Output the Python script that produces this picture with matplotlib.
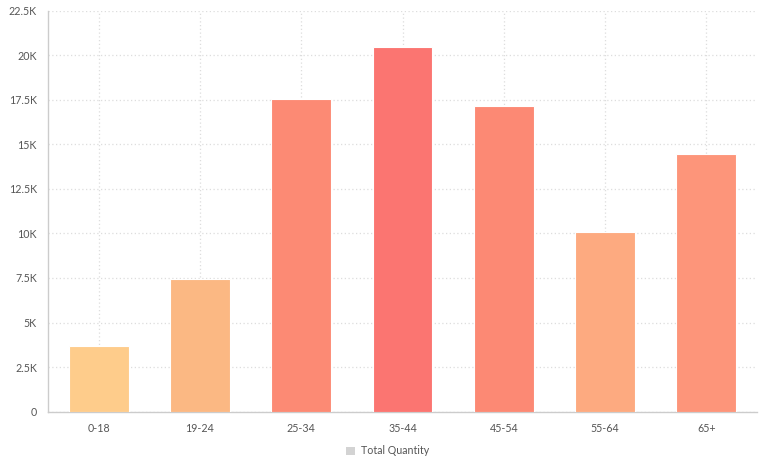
import matplotlib
matplotlib.use("Agg")
import matplotlib.pyplot as plt
from matplotlib.patches import Patch

# --- dados ---
faixas = ["0-18", "19-24", "25-34", "35-44", "45-54", "55-64", "65+"]
quantidades = [3700, 7420, 17550, 20480, 17120, 10050, 14480]
cores = ["#FECC8B", "#FBB883", "#FC8A74", "#FB7571", "#FC8974", "#FDAA80", "#FD957A"]
y_ticks = [0, 2500, 5000, 7500, 10000, 12500, 15000, 17500, 20000, 22500]
y_labels = ["0", "2.5K", "5K", "7.5K", "10K", "12.5K", "15K", "17.5K", "20K", "22.5K"]

plt.rcParams["font.family"] = ["Lato", "DejaVu Sans"]

fig = plt.figure(figsize=(7.7, 4.72), dpi=100)
ax = fig.add_axes([48 / 770, 1 - 411.7 / 472, (757 - 48) / 770, (411.7 - 10.5) / 472])

x = list(range(len(faixas)))
ax.bar(x, quantidades, width=0.59, color=cores, edgecolor="#FFFFFF", linewidth=0.8,
       zorder=3, label="Total Quantity")

ax.set_xlim(-0.5, len(faixas) - 0.5)
ax.set_ylim(0, 22500)
ax.set_xticks(x)
ax.set_xticklabels(faixas)
ax.set_yticks(y_ticks)
ax.set_yticklabels(y_labels)

ax.grid(True, linestyle=(0, (1, 2)), color="#DDDDDD", linewidth=0.9, zorder=0)
ax.tick_params(length=0, labelsize=7.7, colors="#555555")
ax.tick_params(axis="y", pad=8)
ax.tick_params(axis="x", pad=8)

for lado in ["top", "right"]:
    ax.spines[lado].set_visible(False)
for lado in ["left", "bottom"]:
    ax.spines[lado].set_color("#CCCCCC")
    ax.spines[lado].set_linewidth(1)

fig.legend(handles=[Patch(facecolor="#D3D3D3", label="Total Quantity")],
           loc="center", bbox_to_anchor=(388 / 770, 1 - 451 / 472), frameon=False,
           fontsize=7.7, labelcolor="#555555", handlelength=0.8, handleheight=0.8,
           handletextpad=0.6)

fig.savefig("out.png", dpi=100)
